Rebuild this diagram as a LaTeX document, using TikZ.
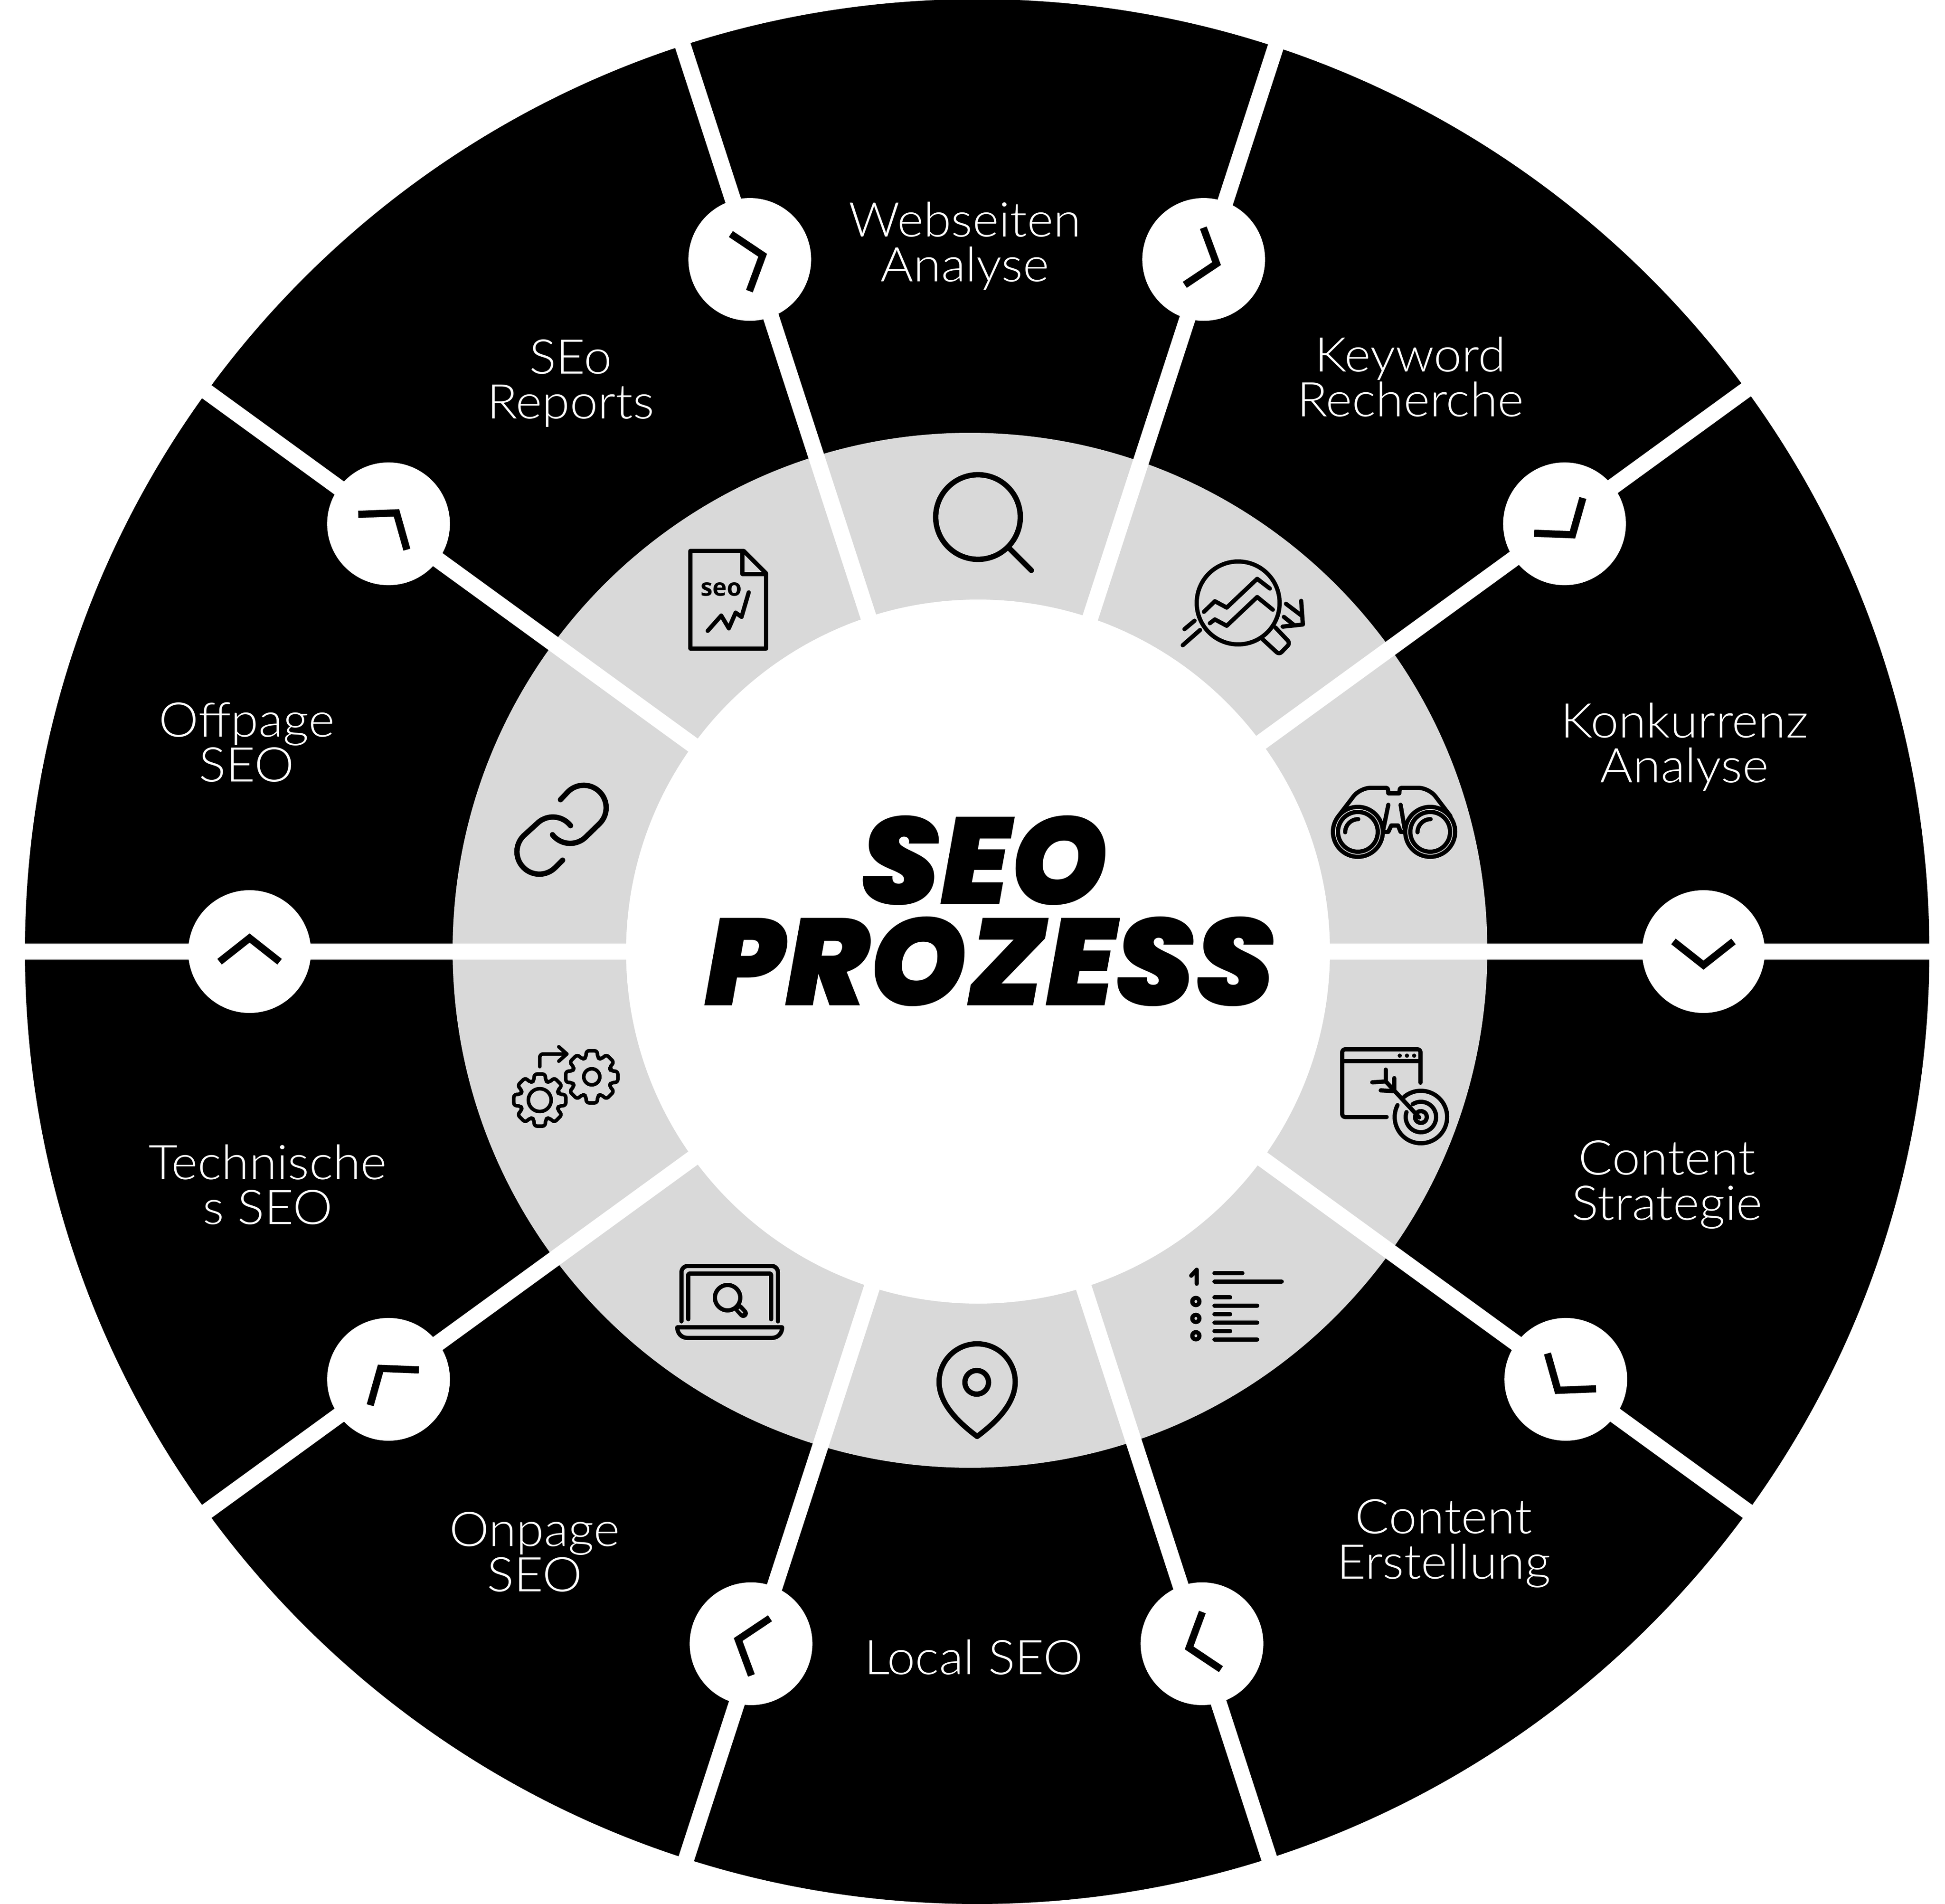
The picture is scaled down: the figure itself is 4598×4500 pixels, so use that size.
\documentclass[tikz,border=0pt]{standalone}
\usepackage{fontspec}
\newfontfamily\labelfont{Lato}[UprightFont=* Light,FakeStretch=1.05]
\newfontfamily\titlefont{Poppins}[UprightFont=* Black Italic,FakeStretch=1.01]
\newfontfamily\seofont{Open Sans}
\definecolor{ringgray}{HTML}{D9D9D9}
\tikzset{
  spoke/.style={draw=white,line width=0.38cm},
  knob/.style={circle,fill=white,minimum size=2.9cm,inner sep=0pt},
  chevline/.style={draw=black,line width=0.17cm},
  steplabel/.style={text=white,align=center,inner sep=0pt,font=\labelfont\fontsize{32.2}{30.2}\selectfont},
  titleword/.style={text=black,inner sep=0pt,align=center,font=\titlefont\fontsize{83}{68.1}\selectfont},
  iconline/.style={draw=black,line width=0.1cm,line cap=round,line join=round},
  thinicon/.style={iconline,line width=0.085cm},
  chev/.pic={\draw[chevline] (-24,71) -- (32,0) -- (-24,-71);},
  gearwheel/.pic={
    \draw[thinicon,rounded corners=0.07cm] (-17:47)
      \foreach \a in {0,45,...,315} { -- (\a-17:47) -- (\a-12:63) -- (\a+12:63) -- (\a+17:47) } -- cycle;
    \draw[thinicon] (0,0) circle (#1);
  }
}
\begin{document}
\begin{tikzpicture}[x=0.01cm,y=-0.01cm]
  \useasboundingbox (0,0) rectangle (4598,4500);
  \coordinate (hub) at (2310,2249);
  \fill[black] (hub) circle (2251);
  \fill[ringgray] (2293,2246) circle (1223);
  \begin{scope}[shift={(2310,2249)}]
    \coordinate (rim0) at (0:2256);
    \coordinate (rim1) at (36:2256);
    \coordinate[xshift=-0.06cm] (rim2) at (72:2256);
    \coordinate[xshift=0.09cm] (rim3) at (108:2256);
    \coordinate (rim4) at (144:2256);
    \coordinate (rim5) at (180:2256);
    \coordinate (rim6) at (216:2256);
    \coordinate (rim7) at (252:2256);
    \coordinate[xshift=0.11cm] (rim8) at (288:2256);
    \coordinate[yshift=0.07cm] (rim9) at (324:2256);
    \coordinate[xshift=-0.06cm] (hub2) at (0,0);
    \coordinate[xshift=0.09cm] (hub3) at (0,0);
    \coordinate[xshift=0.11cm] (hub8) at (0,0);
    \coordinate[yshift=0.07cm] (hub9) at (0,0);
  \end{scope}
  \draw[spoke] (hub) -- (rim0);
  \draw[spoke] (hub) -- (rim1);
  \draw[spoke] (hub2) -- (rim2);
  \draw[spoke] (hub3) -- (rim3);
  \draw[spoke] (hub) -- (rim4);
  \draw[spoke] (hub) -- (rim5);
  \draw[spoke] (hub) -- (rim6);
  \draw[spoke] (hub) -- (rim7);
  \draw[spoke] (hub8) -- (rim8);
  \draw[spoke] (hub9) -- (rim9);
  \fill[white] (2312,2249) circle (832);
  \begin{scope}[shift={(2310,2249)}]
    \node[knob,xshift=-0.03cm] (knob0) at (0:1720) {};
    \node[knob] (knob1) at (36:1720) {};
    \node[knob] (knob2) at (72:1720) {};
    \node[knob,xshift=-0.03cm] (knob3) at (108:1720) {};
    \node[knob] (knob4) at (144:1720) {};
    \node[knob] (knob5) at (180:1720) {};
    \node[knob] (knob6) at (216:1720) {};
    \node[knob,xshift=-0.06cm] (knob7) at (252:1720) {};
    \node[knob,xshift=0.04cm] (knob8) at (288:1720) {};
    \node[knob,xshift=-0.03cm] (knob9) at (324:1720) {};
  \end{scope}
  \pic[rotate=-90] at (knob0) {chev};
  \pic[rotate=-126] at (knob1) {chev};
  \pic[rotate=-162] at (knob2) {chev};
  \pic[rotate=162] at (knob3) {chev};
  \pic[rotate=126] at (knob4) {chev};
  \pic[rotate=90] at (knob5) {chev};
  \pic[rotate=54] at (knob6) {chev};
  \pic[rotate=18] at (knob7) {chev};
  \pic[rotate=-18] at (knob8) {chev};
  \pic[rotate=-54] at (knob9) {chev};
  \node[titleword] (title) at (2340,2153) {SEO\hspace*{0.26cm}\\PROZESS};
  \node[steplabel] (webseiten) at (2281,581) {Webseiten\\Analyse};
  \node[steplabel] (keyword) at (3334,891) {Keyword\\Recherche};
  \node[steplabel] (konkurrenz) at (3982,1765) {Konkurrenz\\Analyse};
  \node[steplabel] (strategie) at (3941,2800) {Content\\Strategie};
  \node[steplabel] (erstellung) at (3413,3648) {Content\\Erstellung};
  \node[steplabel] (local) at (2302,3917) {Local SEO};
  \node[steplabel] (onpage) at (1264,3668) {Onpage\\SEO};
  \node[steplabel] (technisch) at (633,2800) {Technische\\s SEO};
  \node[steplabel] (offpage) at (583,1754) {Offpage\\SEO};
  \node[steplabel] (reports) at (1349,906) {SEo\\Reports};
  \draw[iconline,line width=0.127cm] (2312,1222) circle (100);
  \draw[iconline,line width=0.127cm] (2388,1298) -- (2438,1348);
  \draw[iconline] (2927,1425) circle (98);
  \draw[iconline] (2846,1446) -- (2872,1421) -- (2900,1436) -- (2972,1368) -- (3002,1391);
  \draw[iconline] (2860,1473) -- (2872,1464) -- (2900,1479) -- (2972,1411) -- (3009,1441);
  \draw[iconline] (2800,1487) -- (2824,1467);
  \draw[iconline] (2796,1525) -- (2837,1489);
  \draw[iconline] (3040,1427) -- (3077,1455);
  \draw[iconline] (3035,1458) -- (3060,1478);
  \draw[iconline] (3076,1420) -- (3080,1476) -- (3032,1481);
  \draw[iconline,rounded corners=0.08cm] (3015,1483) -- (3050,1520) -- (3024,1547) -- (2985,1511);
  \draw[iconline,rounded corners=0.25cm] (3164,1929) -- (3215,1862) -- (3273,1862);
  \draw[iconline,rounded corners=0.25cm] (3429,1929) -- (3378,1862) -- (3317,1862);
  \draw[iconline] (3273,1862) .. controls (3281,1862) .. (3282,1875) -- (3308,1875) .. controls (3309,1862) .. (3317,1862);
  \draw[iconline] (3210,1966) circle (59);
  \draw[iconline] (3210,1966) circle (47);
  \draw[iconline] (3381,1966) circle (59);
  \draw[iconline] (3381,1966) circle (47);
  \draw[iconline] (3180,1967) arc (180:270:31);
  \draw[iconline] (3351,1967) arc (180:270:31);
  \draw[iconline] (3282,1902) -- (3270,1961);
  \draw[iconline] (3311,1902) -- (3321,1961);
  \draw[iconline] (3273,1966) -- (3282,1966) -- (3289,1951) -- (3305,1951) -- (3311,1966) -- (3319,1966);
  \draw[iconline,rounded corners=0.07cm] (3278,2640) -- (3173,2640) -- (3173,2480) -- (3358,2480) -- (3358,2559);
  \draw[iconline] (3173,2508) -- (3358,2508);
  \fill (3309,2495) circle (5);
  \fill (3326,2495) circle (5);
  \fill (3343,2495) circle (5);
  \draw[iconline] (3359,2640) ++(230:62) arc (230:567:62);
  \draw[iconline] (3359,2640) ++(237:36) arc (237:559:36);
  \draw[iconline] (3359,2640) ++(235:14) arc (235:550:14);
  \draw[iconline] (3276,2556) -- (3355,2641);
  \draw[iconline] (3276,2528) -- (3276,2556) -- (3244,2558);
  \draw[iconline] (3296,2548) -- (3296,2579) -- (3264,2577);
  \draw[iconline] (2816,3015) -- (2829,3001) -- (2829,3034);
  \draw[iconline] (2871,3009) -- (2937,3009);
  \draw[iconline] (2871,3029) -- (3030,3029);
  \draw[iconline] (2871,3066) -- (2908,3066);
  \draw[iconline] (2871,3086) -- (2972,3086);
  \draw[iconline] (2871,3106) -- (2908,3106);
  \draw[iconline] (2871,3126) -- (2972,3126);
  \draw[iconline] (2871,3146) -- (2908,3146);
  \draw[iconline] (2871,3166) -- (2972,3166);
  \draw[iconline] (2827,3076) circle (8.5);
  \draw[iconline] (2827,3116) circle (8.5);
  \draw[iconline] (2827,3157) circle (8.5);
  \draw[iconline,line width=0.125cm] (2220,3266) arc (180:360:90) .. controls (2400,3320) and (2350,3365) .. (2310,3395) .. controls (2270,3365) and (2220,3320) .. (2220,3266) -- cycle;
  \draw[iconline,line width=0.125cm] (2309,3267) circle (28);
  \draw[iconline,rounded corners=0.15cm] (1611,3123) -- (1611,2992) -- (1839,2992) -- (1839,3123);
  \draw[iconline,rounded corners=0.03cm] (1627,3118) -- (1627,3010) -- (1823,3010) -- (1823,3118);
  \draw[iconline] (1601,3137) -- (1849,3137) .. controls (1849,3150) and (1840,3162) .. (1825,3162) -- (1625,3162) .. controls (1610,3162) and (1601,3150) .. (1601,3137) -- cycle;
  \draw[iconline] (1720,3067) circle (30);
  \draw[iconline,line width=0.22cm] (1747,3093) -- (1757,3104);
  \draw[draw=ringgray,line width=0.03cm] (1747,3094) -- (1756,3103);
  \pic at (1276,2600) {gearwheel=27};
  \pic at (1399,2545) {gearwheel=19};
  \draw[thinicon,rounded corners=0.08cm] (1276,2521) -- (1276,2491) -- (1340,2491);
  \draw[thinicon] (1321,2474) -- (1340,2491) -- (1321,2508);
  \draw[iconline,line width=0.127cm] (1325,1890) -- (1342.5,1871.5) arc (225:405:53) -- (1384,1979) arc (47:142:53);
  \draw[iconline,line width=0.127cm] (1330,2033) -- (1312.5,2050.5) arc (45:225:53) -- (1269.5,1946.5) arc (225:322:53);
  \draw[iconline] (1632,1302) -- (1758,1302) -- (1811,1355) -- (1811,1533) -- (1632,1533) -- cycle;
  \draw[iconline] (1755,1302) -- (1755,1357) -- (1811,1357);
  \node[inner sep=0pt,font=\seofont\bfseries\fontsize{16.3}{16.3}\selectfont] (seotag) at (1705,1393) {seo};
  \draw[iconline] (1673,1491) -- (1705,1455) -- (1723,1485) -- (1739,1448) -- (1753,1458) -- (1770,1400);
\end{tikzpicture}
\end{document}
